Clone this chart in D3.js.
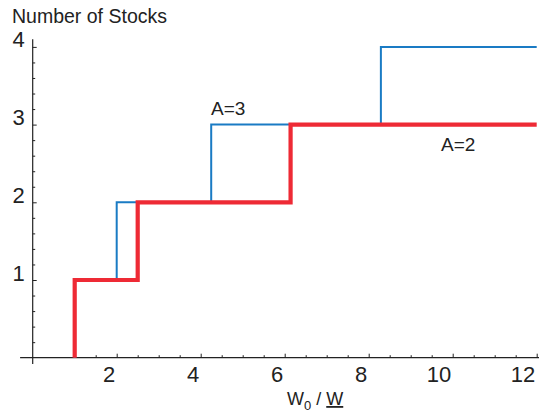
<!DOCTYPE html>
<html>
<head>
<meta charset="utf-8">
<script src="https://cdn.jsdelivr.net/npm/d3@7"></script>
<style>
  body { margin: 0; background: #fff; }
  svg { display: block; font-family: "Liberation Sans", Arial, sans-serif; }
</style>
</head>
<body>
<svg id="chart" width="539" height="415"></svg>
<script>
// data: wealth ratio where the number of stocks jumps, and the count after it
const a2X = [1, 1, 2.5, 6.14, 12];
const a2N = [0, 1, 2, 3, 3];
const a3X = [1, 1, 2, 4.25, 8.29, 12];
const a3N = [0, 1, 2, 3, 4, 4];

const xTickVals = [2, 4, 6, 8, 10, 12];
const yTickVals = [1, 2, 3, 4];

const svg = d3.select("#chart");
const ink = "#222";

// scales
const x = d3.scaleLinear().domain([0, 12]).range([32.7, 536.7]);
const y = d3.scaleLinear().domain([0, 4]).range([357.7, 46.9]);

// axis lines (they run a bit past the origin)
svg.append("line")
    .attr("x1", x(-0.3)).attr("x2", 539)
    .attr("y1", y(0)).attr("y2", y(0))
    .attr("stroke", ink).attr("stroke-width", 1.2);
svg.append("line")
    .attr("x1", x(0)).attr("x2", x(0))
    .attr("y1", y(4.1)).attr("y2", y(-0.08))
    .attr("stroke", ink).attr("stroke-width", 1.2);

// minor ticks
const xMinor = d3.range(1, 12.01, 0.5).filter(v => !xTickVals.includes(v));
const yMinor = d3.range(0.2, 4.01, 0.2).map(v => +v.toFixed(1)).filter(v => !yTickVals.includes(v));

const gxMinor = svg.append("g")
    .attr("transform", `translate(0,${y(0)})`)
    .call(d3.axisBottom(x).tickValues(xMinor).tickSizeInner(-2.5).tickSizeOuter(0).tickFormat(""));
const gxMajor = svg.append("g")
    .attr("transform", `translate(0,${y(0)})`)
    .call(d3.axisBottom(x).tickValues(xTickVals).tickSizeInner(-4).tickSizeOuter(0).tickFormat(d3.format("d")));
const gyMinor = svg.append("g")
    .attr("transform", `translate(${x(0)},0)`)
    .call(d3.axisLeft(y).tickValues(yMinor).tickSizeInner(-2.5).tickSizeOuter(0).tickFormat(""));
const gyMajor = svg.append("g")
    .attr("transform", `translate(${x(0)},0)`)
    .call(d3.axisLeft(y).tickValues(yTickVals).tickSizeInner(-4).tickSizeOuter(0).tickFormat(d3.format("d")));

[gxMinor, gxMajor, gyMinor, gyMajor].forEach(g => {
    g.select(".domain").remove();
    g.selectAll(".tick line").attr("stroke", ink).attr("stroke-width", 1);
});

// tick labels sit just left of their tick
gxMajor.selectAll(".tick text")
    .attr("fill", ink)
    .attr("font-size", 22)
    .attr("font-family", "Liberation Sans, Arial, sans-serif")
    .attr("text-anchor", "end")
    .attr("x", -2)
    .attr("y", 24)
    .attr("dy", null);
gyMajor.selectAll(".tick text")
    .attr("fill", ink)
    .attr("font-size", 22)
    .attr("font-family", "Liberation Sans, Arial, sans-serif")
    .attr("text-anchor", "end")
    .attr("x", -8)
    .attr("y", 0)
    .attr("dy", null);

// step lines
const line = d3.line()
    .x(d => x(d[0]))
    .y(d => y(d[1]))
    .curve(d3.curveStepAfter);

svg.append("path")
    .datum(d3.zip(a3X, a3N))
    .attr("fill", "none")
    .attr("stroke", "#1a7bc4")
    .attr("stroke-width", 2)
    .attr("d", line);

svg.append("path")
    .datum(d3.zip(a2X, a2N))
    .attr("fill", "none")
    .attr("stroke", "#ee2a35")
    .attr("stroke-width", 4.2)
    .attr("d", line);

// labels
svg.append("text")
    .attr("x", 12).attr("y", 23)
    .attr("font-size", 19.5).attr("fill", ink)
    .text("Number of Stocks");

svg.append("text")
    .attr("x", 211).attr("y", 115)
    .attr("font-size", 19).attr("fill", ink)
    .text("A=3");

svg.append("text")
    .attr("x", 441).attr("y", 150.5)
    .attr("font-size", 19).attr("fill", ink)
    .text("A=2");

const xl = svg.append("text")
    .attr("x", 287).attr("y", 405)
    .attr("font-size", 18).attr("fill", ink);
xl.append("tspan").text("W");
xl.append("tspan").attr("font-size", 13).attr("dy", 5).text("0");
xl.append("tspan").attr("dy", -5).text(" / ");
xl.append("tspan").attr("text-decoration", "underline").text("W");
</script>
</body>
</html>
